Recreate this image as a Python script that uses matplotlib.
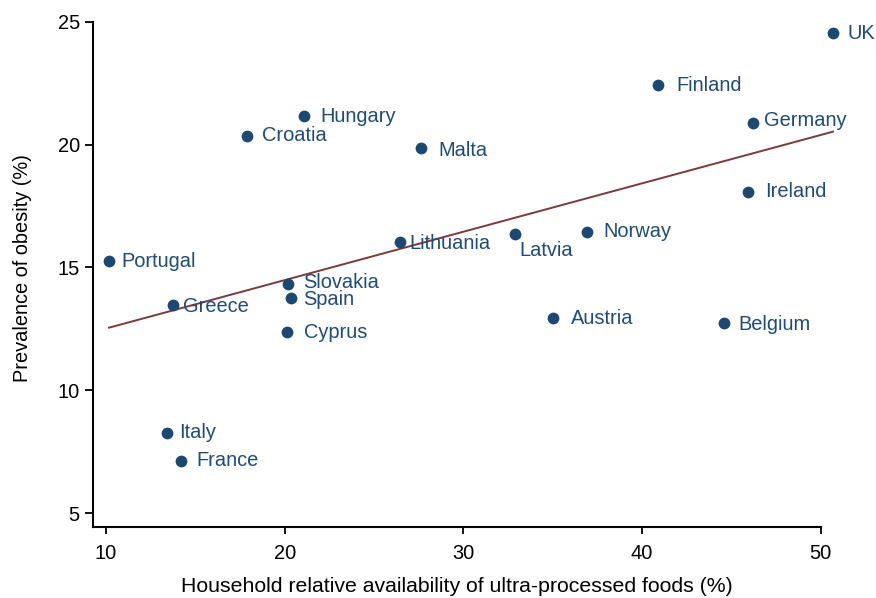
import matplotlib
matplotlib.use("Agg")
import matplotlib.pyplot as plt
import numpy as np

plt.rcParams['font.family'] = ['Liberation Sans', 'DejaVu Sans']

countries = ["UK", "Finland", "Germany", "Ireland", "Norway", "Latvia", "Austria",
             "Belgium", "Malta", "Hungary", "Croatia", "Lithuania", "Portugal",
             "Slovakia", "Spain", "Greece", "Cyprus", "Italy", "France"]
upf = [50.68, 40.89, 46.2, 45.93, 36.92, 32.89, 35.01,
       44.58, 27.63, 21.08, 17.89, 26.45, 10.17,
       20.18, 20.35, 13.75, 20.13, 13.41, 14.2]
obesity = [24.55, 22.43, 20.89, 18.08, 16.45, 16.36, 12.94,
           12.74, 19.87, 21.17, 20.36, 16.04, 15.26,
           14.33, 13.76, 13.47, 12.37, 8.26, 7.12]
xticks = [10, 20, 30, 40, 50]
yticks = [5, 10, 15, 20, 25]

# label offsets in points (style)
offsets = {"Latvia": (3, -12), "Germany": (8, 2), "Malta": (12.5, -2),
           "Lithuania": (7, -1), "Greece": (7, -1), "Spain": (9, -1),
           "Slovakia": (11, 1), "Belgium": (10.5, -1), "Finland": (13, 0),
           "Austria": (13, 0), "Norway": (11.5, 0), "Cyprus": (12.5, 0),
           "Hungary": (12, 0), "Croatia": (10.5, 0), "Ireland": (12, 0),
           "UK": (10.5, 0), "France": (11, 0)}

dot_color = "#1c4872"
text_color = "#1f4b78"
line_color = "#7b3a3c"
fs = 14.4

fig = plt.figure(figsize=(8.76, 5.98), dpi=100)
ax_l, ax_r, ax_b, ax_t = 93, 856.6, 527, 9.7
ax = fig.add_axes([ax_l/876, (598-ax_b)/598, (ax_r-ax_l)/876, (ax_b-ax_t)/598])

ax.scatter(upf, obesity, s=72, color=dot_color, zorder=3, clip_on=False, linewidths=0)

coef = np.polyfit(upf, obesity, 1)
xs = np.array([min(upf), max(upf)])
ax.plot(xs, np.polyval(coef, xs), color=line_color, lw=1.4, zorder=2, clip_on=False)

for c, x, y in zip(countries, upf, obesity):
    dx, dy = offsets.get(c, (9, 0))
    ax.annotate(c, (x, y), xytext=(dx, dy), textcoords="offset points",
                ha="left", va="center", fontsize=fs, color=text_color)

ax.set_xlim(9.27, 52)
ax.set_ylim(4.43, 25.5)
ax.set_xticks(xticks)
ax.set_yticks(yticks)
ax.spines['top'].set_visible(False)
ax.spines['right'].set_visible(False)
ax.spines['bottom'].set_bounds(9.27, 50)
ax.spines['left'].set_bounds(4.43, 25)
for s in ['left', 'bottom']:
    ax.spines[s].set_linewidth(1.5)
ax.tick_params(axis='both', direction='out', width=1.3, labelsize=fs, colors='black')
ax.tick_params(axis='x', length=5, pad=7)
ax.tick_params(axis='y', length=5.5, pad=4)

ax.set_xlabel("Household relative availability of ultra-processed foods (%)", fontsize=15.3)
ax.xaxis.set_label_coords((457-ax_l)/(ax_r-ax_l), -(577-ax_b)/(ax_b-ax_t), transform=ax.transAxes)
ax.set_ylabel("Prevalence of obesity (%)", fontsize=fs)
ax.yaxis.set_label_coords(-(ax_l-32)/(ax_r-ax_l), 0.5, transform=ax.transAxes)

fig.savefig("out.png", dpi=100)
